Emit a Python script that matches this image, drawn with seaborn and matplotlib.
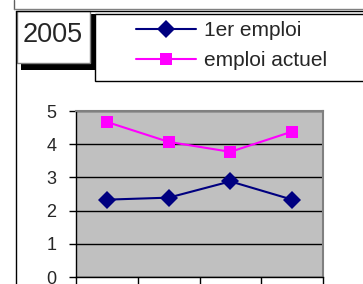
import numpy as np
import pandas as pd
import matplotlib
matplotlib.use("Agg")
import matplotlib.pyplot as plt
import seaborn as sns
from matplotlib.patches import Rectangle
from matplotlib.lines import Line2D

# data
categories = [0, 1, 2, 3]
premier_emploi = [2.33, 2.39, 2.88, 2.33]
emploi_actuel = [4.67, 4.07, 3.77, 4.38]
series_names = ["1er emploi", "emploi actuel"]
year_label = "2005"

sns.set_style("white")
plt.rcParams["font.family"] = ["Liberation Sans", "DejaVu Sans"]

df = pd.DataFrame({
    "x": categories * 2,
    "y": premier_emploi + emploi_actuel,
    "serie": [series_names[0]] * 4 + [series_names[1]] * 4,
})

W, H = 363, 284
fig = plt.figure(figsize=(W / 100, H / 100), dpi=100)


def fx(px):
    return px / W


def fy(py):
    return 1 - py / H


ax = fig.add_axes([fx(76), fy(277), fx(323) - fx(76), fy(111) - fy(277)])
ax.set_facecolor("#c0c0c0")

palette = {series_names[0]: "#000080", series_names[1]: "#ff00ff"}
markers = {series_names[0]: "D", series_names[1]: "s"}
sns.lineplot(data=df, x="x", y="y", hue="serie", style="serie",
             palette=palette, markers=markers, dashes=False,
             linewidth=1.5, markersize=9, markeredgewidth=0,
             legend=False, ax=ax, zorder=3)

ax.set_xlim(-0.5, 3.5)
ax.set_ylim(0, 5)
ax.set_yticks([0, 1, 2, 3, 4, 5])
ax.set_xticks([-0.5, 0.5, 1.5, 2.5, 3.5])
ax.set_xticklabels([])
ax.set_xlabel("")
ax.set_ylabel("")
ax.yaxis.grid(True, color="black", linewidth=1)
ax.xaxis.grid(False)
ax.tick_params(axis="y", direction="out", length=5, width=1, color="black",
               labelsize=13, pad=9, left=True)
ax.tick_params(axis="x", direction="out", length=8, width=1, color="black",
               bottom=True)
for side in ["top", "right"]:
    ax.spines[side].set_color("#808080")
    ax.spines[side].set_linewidth(1.5)
for side in ["left", "bottom"]:
    ax.spines[side].set_color("black")
    ax.spines[side].set_linewidth(1)

# outer frames
fig.add_artist(Line2D([fx(14), fx(14)], [fy(0), fy(8.5)], color="#606060", lw=1))
fig.add_artist(Line2D([fx(14), 1], [fy(8.5), fy(8.5)], color="#808080", lw=1))
fig.add_artist(Line2D([fx(16), 1], [fy(10.5), fy(10.5)], color="black", lw=1))
fig.add_artist(Line2D([fx(16), fx(16)], [fy(10.5), 0], color="black", lw=1))

# year box with shadow
fig.add_artist(Rectangle((fx(21), fy(70)), fx(95) - fx(21), fy(14) - fy(70),
                         facecolor="black", edgecolor="none"))
fig.add_artist(Rectangle((fx(17), fy(63)), fx(90) - fx(17), fy(11.5) - fy(63),
                         facecolor="white", edgecolor="#808080", lw=1))
fig.text(fx(53), fy(35), year_label, ha="center", va="center", fontsize=19.5)

# legend box
fig.add_artist(Rectangle((fx(95), fy(81)), 1.2 - fx(95), fy(13.5) - fy(81),
                         facecolor="white", edgecolor="black", lw=1))
handles = [Line2D([], [], color=palette[n], marker=markers[n], lw=1.5,
                  markersize=9, markeredgewidth=0) for n in series_names]
fig.legend(handles, series_names, loc="upper left",
           bbox_to_anchor=(fx(135.5), fy(21)), frameon=False, fontsize=15,
           handlelength=2.9, handletextpad=0.38, labelspacing=0.55,
           borderpad=0, borderaxespad=0)

fig.savefig("out.png", dpi=100)
